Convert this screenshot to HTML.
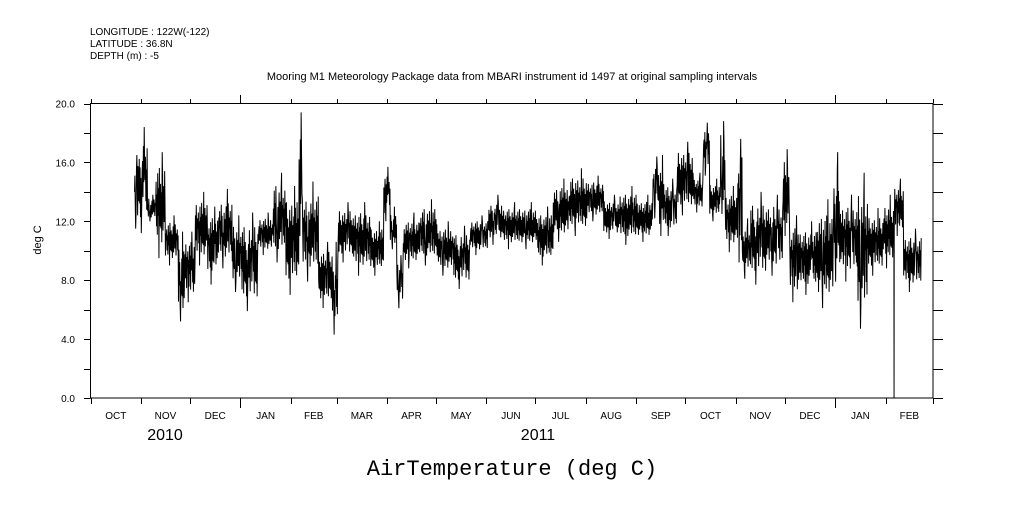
<!DOCTYPE html>
<html><head><meta charset="utf-8"><style>
body{margin:0;background:#fff;}
svg text{font-family:"Liberation Sans",sans-serif;fill:#000;}
</style></head><body>
<svg id="chart" width="1009" height="504" viewBox="0 0 1009 504" xmlns="http://www.w3.org/2000/svg">
<g font-size="10">
<text x="90" y="35">LONGITUDE : 122W(-122)</text>
<text x="90" y="47">LATITUDE : 36.8N</text>
<text x="90" y="59">DEPTH (m) : -5</text>
</g>
<text x="512" y="80" font-size="11" text-anchor="middle">Mooring M1 Meteorology Package data from MBARI instrument id 1497 at original sampling intervals</text>
<rect x="90.5" y="103.5" width="842.5" height="294.5" fill="none" stroke="#000" stroke-width="1"/>
<g id="axes"></g>
<g id="series"></g>
<text transform="translate(41,240) rotate(-90)" font-size="11" text-anchor="middle">deg C</text>
<text x="165" y="440" font-size="16" text-anchor="middle">2010</text>
<text x="538" y="440" font-size="16" text-anchor="middle">2011</text>
<text x="512" y="475" font-size="22" text-anchor="middle" style="font-family:'Liberation Mono',monospace">AirTemperature (deg C)</text>
</svg>
<script>
const yTicks=[0,4,8,12,16,20];
const yTickLabels=["0.0","4.0","8.0","12.0","16.0","20.0"];
const monthStarts=[0,31,61,92,123,151,182,212,243,273,304,335,365,396,426,457,488,517];
const monthLabels=["OCT","NOV","DEC","JAN","FEB","MAR","APR","MAY","JUN","JUL","AUG","SEP","OCT","NOV","DEC","JAN","FEB"];
const segDay=[27,29.4,35,40,46,54,58,64.4,72,78.5,87,93,103,112,120,128,130,140,148.5,152,161,172,180,184,188,192,202,213,223,233,244,253,264,274,284,294,305,315,325,336,345,349,352,360,370,376,380,386.5,389.5,397,400,405,415,425,429,435.5,446,456,460,470.5,477,486.5,493,493.3,499,510];
const segHi=[16.5,18.4,13.8,16.7,12.4,11.3,11.3,14,13,14.2,12.4,12.6,12.6,15.3,14.4,19.4,14.7,10.6,10.6,13.3,13.3,12,15.7,13,9.7,12.6,13.5,12,11.7,12.4,13.8,13.3,13.3,13,14.9,15.6,15.1,13.8,14.4,13.8,16.4,16.5,14.9,17.4,15.3,18.7,14.9,18.8,14.4,17.6,12.2,14,13.8,16.9,12.4,12,13.5,16.7,13.8,15.3,12.9,13.8,11,14.9,11.5];
const segLo=[11.5,11.2,12,9.5,9,5.2,6.5,9,7.7,8.8,7.2,5.9,9.7,9.2,7,11,7.9,6.1,4.3,9.2,8.3,8.3,12,10.1,6.1,8.8,9,8.3,7.4,9.7,10.4,10.1,10.1,9,10.6,11,12,10.8,10.4,10.6,12.2,11,11,12.4,12.6,15.1,12,12.5,9.9,9.2,8.1,7.7,8.3,11,6.5,7,6.1,7.9,7.9,4.7,8.3,8.8,0,11,7.2];
const X0=90.5,X1=933,Y0=398,Y1=103.5,D0=0,D1=517;
const xs=d=>X0+(d-D0)/(D1-D0)*(X1-X0);
const ys=v=>Y0-(v-0)/(20-0)*(Y0-Y1);
const NS="http://www.w3.org/2000/svg";
const axes=document.getElementById('axes');
function mk(tag,attrs,parent){const e=document.createElementNS(NS,tag);for(const k in attrs)e.setAttribute(k,attrs[k]);parent.appendChild(e);return e;}
for(let v=0;v<=20;v+=2){
 const y=Math.round(ys(v))+0.5;
 const t1=mk('line',{x1:84,x2:90.5,y1:y,y2:y,stroke:'#000'},axes);
 
 
 const t2=mk('line',{x1:933,x2:943,y1:y,y2:y,stroke:'#000'},axes);
 
 
}
yTicks.forEach((v,i)=>{
 const t=mk('text',{x:75,y:ys(v)+4,'font-size':10,'text-anchor':'end'},axes);
 t.textContent=yTickLabels[i];
 
 
});
monthStarts.forEach((d,i)=>{
 const x=Math.round(xs(d))+0.5;
 const big=(d===92||d===457);
 const b=mk('line',{x1:x,x2:x,y1:398,y2:big?408:404,stroke:'#000'},axes);
 
 
 const t=mk('line',{x1:x,x2:x,y1:big?95:99,y2:103.5,stroke:'#000'},axes);
 
 
 if(i<monthLabels.length){
  const l=mk('text',{x:xs((d+monthStarts[i+1])/2),y:419,'font-size':10,'text-anchor':'middle'},axes);
  l.textContent=monthLabels[i];
  
  
 }
});
const pat=[0.5,0.72,0.3,0.6,0.22,0.8,0.4,0.66,0.18,0.85,0.45,0.3,0.7,0.28,0.62,0.15,0.52,0.78,0.26,0.58,0.68,0.34,0.82,0.48,0.2,0.64];
let pts=[],k=0;
for(let s=0;s<segDay.length-1;s++){
 const lo=segLo[s],hi=segHi[s];
 const n=Math.max(3,Math.round((segDay[s+1]-segDay[s])/0.25));
 const iLo=Math.floor(n/3),iHi=Math.floor(2*n/3);
 const step=(segDay[s+1]-segDay[s])/n;
 for(let i=0;i<n;i++){
  const d=segDay[s]+i*step;
  let f=pat[k%pat.length];k++;
  if(n<=3&&i===0)f=1;
  if(i===iLo)f=0;
  if(i===iHi)f=1;
  const v=lo+(hi-lo)*f;
  pts.push(xs(d).toFixed(2)+','+ys(v).toFixed(2));
 }
}
const line=mk('polyline',{points:pts.join(' '),fill:'none',stroke:'#000','stroke-width':1},document.getElementById('series'));


</script>
</body></html>
